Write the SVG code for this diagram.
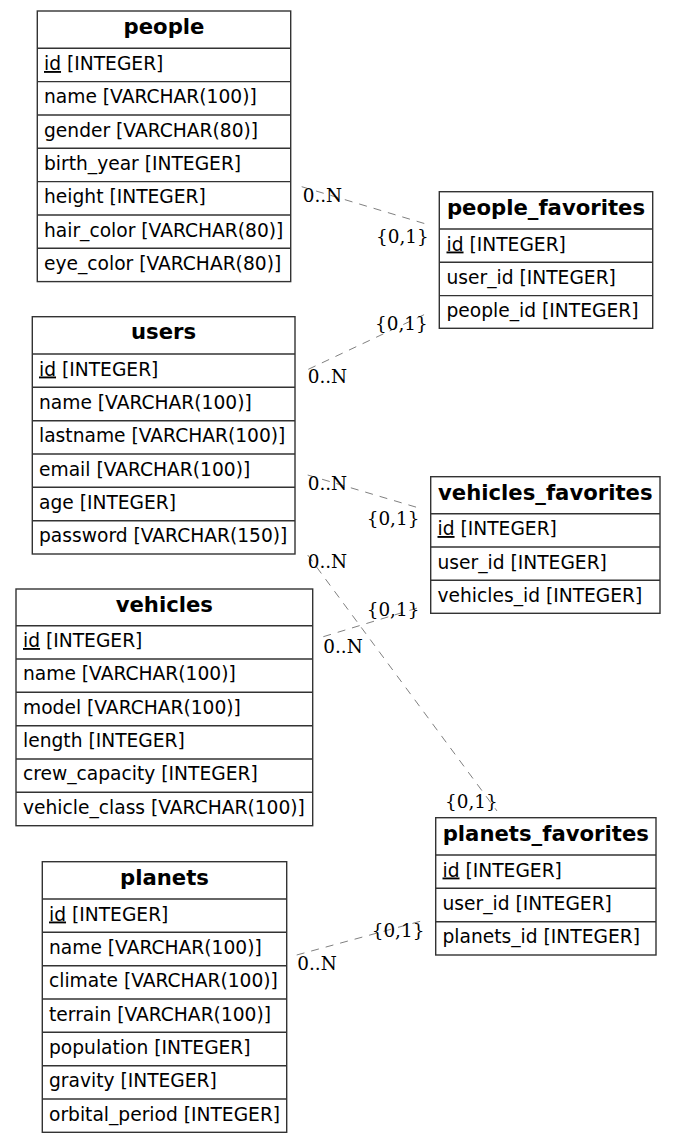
<svg xmlns="http://www.w3.org/2000/svg" width="676" height="1143" viewBox="0 0 676 1143">
<style>
.box{fill:#fff;stroke:#333;stroke-width:1.4}
.sep{stroke:#333;stroke-width:1.4}
.hd{font-family:"DejaVu Sans",sans-serif;font-weight:bold;font-size:21.2px;fill:#000;text-anchor:middle}
.row{font-family:"DejaVu Sans",sans-serif;font-size:18.67px;fill:#000}
.pk{text-decoration:underline}
.edge{stroke:#808080;stroke-width:1;stroke-dasharray:8,7;fill:none}
.lbl{font-family:"DejaVu Serif",serif;font-size:18.4px;fill:#000}
</style>
<rect width="676" height="1143" fill="#fff"/>
<g id="connectors">
<line class="edge" x1="301.7" y1="186.7" x2="429.3" y2="225"/>
<text class="lbl" x="302.7" y="201.7">0..N</text>
<text class="lbl" x="376" y="243">{0,1}</text>
<line class="edge" x1="308.3" y1="369.3" x2="428.3" y2="312.7"/>
<text class="lbl" x="375" y="330">{0,1}</text>
<text class="lbl" x="307.7" y="383.3">0..N</text>
<line class="edge" x1="307.7" y1="475" x2="420" y2="508.3"/>
<text class="lbl" x="307.7" y="490">0..N</text>
<text class="lbl" x="366.7" y="525">{0,1}</text>
<line class="edge" x1="307.7" y1="555" x2="497" y2="811"/>
<text class="lbl" x="307.7" y="568.3">0..N</text>
<text class="lbl" x="445" y="808.3">{0,1}</text>
<line class="edge" x1="323.3" y1="636.7" x2="418.3" y2="607.7"/>
<text class="lbl" x="366.7" y="615.7">{0,1}</text>
<text class="lbl" x="323.3" y="653.3">0..N</text>
<line class="edge" x1="296.7" y1="955" x2="425" y2="920"/>
<text class="lbl" x="371.7" y="936.7">{0,1}</text>
<text class="lbl" x="297.3" y="970">0..N</text>
</g>
<g id="people">
<rect class="box" x="37.3" y="11" width="253.4" height="270.6"/>
<line class="sep" x1="37.3" y1="48.3" x2="290.7" y2="48.3"/>
<line class="sep" x1="37.3" y1="81.6" x2="290.7" y2="81.6"/>
<line class="sep" x1="37.3" y1="115" x2="290.7" y2="115"/>
<line class="sep" x1="37.3" y1="148.3" x2="290.7" y2="148.3"/>
<line class="sep" x1="37.3" y1="181.6" x2="290.7" y2="181.6"/>
<line class="sep" x1="37.3" y1="215" x2="290.7" y2="215"/>
<line class="sep" x1="37.3" y1="248.3" x2="290.7" y2="248.3"/>
<text class="hd" x="164" y="34">people</text>
<text class="row" x="44" y="70"><tspan class="pk">id</tspan> [INTEGER]</text>
<text class="row" x="44" y="103.3">name [VARCHAR(100)]</text>
<text class="row" x="44" y="136.6">gender [VARCHAR(80)]</text>
<text class="row" x="44" y="170">birth_year [INTEGER]</text>
<text class="row" x="44" y="203.3">height [INTEGER]</text>
<text class="row" x="44" y="236.6">hair_color [VARCHAR(80)]</text>
<text class="row" x="44" y="270">eye_color [VARCHAR(80)]</text>
</g>
<g id="people_favorites">
<rect class="box" x="439.3" y="191.7" width="213.4" height="136.6"/>
<line class="sep" x1="439.3" y1="229" x2="652.7" y2="229"/>
<line class="sep" x1="439.3" y1="262.3" x2="652.7" y2="262.3"/>
<line class="sep" x1="439.3" y1="295.6" x2="652.7" y2="295.6"/>
<text class="hd" x="546" y="214.5">people_favorites</text>
<text class="row" x="446.5" y="250.5"><tspan class="pk">id</tspan> [INTEGER]</text>
<text class="row" x="446.5" y="284">user_id [INTEGER]</text>
<text class="row" x="446.5" y="317.3">people_id [INTEGER]</text>
</g>
<g id="users">
<rect class="box" x="32.3" y="316.7" width="262.7" height="237.3"/>
<line class="sep" x1="32.3" y1="354" x2="295" y2="354"/>
<line class="sep" x1="32.3" y1="387.3" x2="295" y2="387.3"/>
<line class="sep" x1="32.3" y1="420.7" x2="295" y2="420.7"/>
<line class="sep" x1="32.3" y1="454" x2="295" y2="454"/>
<line class="sep" x1="32.3" y1="487.3" x2="295" y2="487.3"/>
<line class="sep" x1="32.3" y1="520.7" x2="295" y2="520.7"/>
<text class="hd" x="163.6" y="339.2">users</text>
<text class="row" x="39" y="375.5"><tspan class="pk">id</tspan> [INTEGER]</text>
<text class="row" x="39" y="408.8">name [VARCHAR(100)]</text>
<text class="row" x="39" y="442.2">lastname [VARCHAR(100)]</text>
<text class="row" x="39" y="475.5">email [VARCHAR(100)]</text>
<text class="row" x="39" y="508.8">age [INTEGER]</text>
<text class="row" x="39" y="542.2">password [VARCHAR(150)]</text>
</g>
<g id="vehicles_favorites">
<rect class="box" x="430.7" y="476.7" width="229.3" height="136.6"/>
<line class="sep" x1="430.7" y1="513.7" x2="660" y2="513.7"/>
<line class="sep" x1="430.7" y1="547" x2="660" y2="547"/>
<line class="sep" x1="430.7" y1="580.3" x2="660" y2="580.3"/>
<text class="hd" x="545.3" y="499.5">vehicles_favorites</text>
<text class="row" x="437.5" y="535"><tspan class="pk">id</tspan> [INTEGER]</text>
<text class="row" x="437.5" y="568.5">user_id [INTEGER]</text>
<text class="row" x="437.5" y="601.8">vehicles_id [INTEGER]</text>
</g>
<g id="vehicles">
<rect class="box" x="16" y="589" width="296.7" height="236.7"/>
<line class="sep" x1="16" y1="625.7" x2="312.7" y2="625.7"/>
<line class="sep" x1="16" y1="659" x2="312.7" y2="659"/>
<line class="sep" x1="16" y1="692.3" x2="312.7" y2="692.3"/>
<line class="sep" x1="16" y1="725.7" x2="312.7" y2="725.7"/>
<line class="sep" x1="16" y1="759" x2="312.7" y2="759"/>
<line class="sep" x1="16" y1="792.3" x2="312.7" y2="792.3"/>
<text class="hd" x="164.3" y="611.5">vehicles</text>
<text class="row" x="23" y="647"><tspan class="pk">id</tspan> [INTEGER]</text>
<text class="row" x="23" y="680.3">name [VARCHAR(100)]</text>
<text class="row" x="23" y="713.7">model [VARCHAR(100)]</text>
<text class="row" x="23" y="747">length [INTEGER]</text>
<text class="row" x="23" y="780.3">crew_capacity [INTEGER]</text>
<text class="row" x="23" y="813.7">vehicle_class [VARCHAR(100)]</text>
</g>
<g id="planets_favorites">
<rect class="box" x="435.7" y="817.7" width="220.3" height="137.3"/>
<line class="sep" x1="435.7" y1="855" x2="656" y2="855"/>
<line class="sep" x1="435.7" y1="888.3" x2="656" y2="888.3"/>
<line class="sep" x1="435.7" y1="921.7" x2="656" y2="921.7"/>
<text class="hd" x="545.8" y="840.5">planets_favorites</text>
<text class="row" x="442.5" y="876.5"><tspan class="pk">id</tspan> [INTEGER]</text>
<text class="row" x="442.5" y="909.8">user_id [INTEGER]</text>
<text class="row" x="442.5" y="943.2">planets_id [INTEGER]</text>
</g>
<g id="planets">
<rect class="box" x="42.3" y="861.7" width="244.4" height="270.6"/>
<line class="sep" x1="42.3" y1="899" x2="286.7" y2="899"/>
<line class="sep" x1="42.3" y1="932.3" x2="286.7" y2="932.3"/>
<line class="sep" x1="42.3" y1="965.7" x2="286.7" y2="965.7"/>
<line class="sep" x1="42.3" y1="999" x2="286.7" y2="999"/>
<line class="sep" x1="42.3" y1="1032.3" x2="286.7" y2="1032.3"/>
<line class="sep" x1="42.3" y1="1065.7" x2="286.7" y2="1065.7"/>
<line class="sep" x1="42.3" y1="1099" x2="286.7" y2="1099"/>
<text class="hd" x="164.5" y="884.5">planets</text>
<text class="row" x="49" y="920.5"><tspan class="pk">id</tspan> [INTEGER]</text>
<text class="row" x="49" y="953.8">name [VARCHAR(100)]</text>
<text class="row" x="49" y="987.2">climate [VARCHAR(100)]</text>
<text class="row" x="49" y="1020.5">terrain [VARCHAR(100)]</text>
<text class="row" x="49" y="1053.8">population [INTEGER]</text>
<text class="row" x="49" y="1087.2">gravity [INTEGER]</text>
<text class="row" x="49" y="1120.5">orbital_period [INTEGER]</text>
</g>
</svg>
